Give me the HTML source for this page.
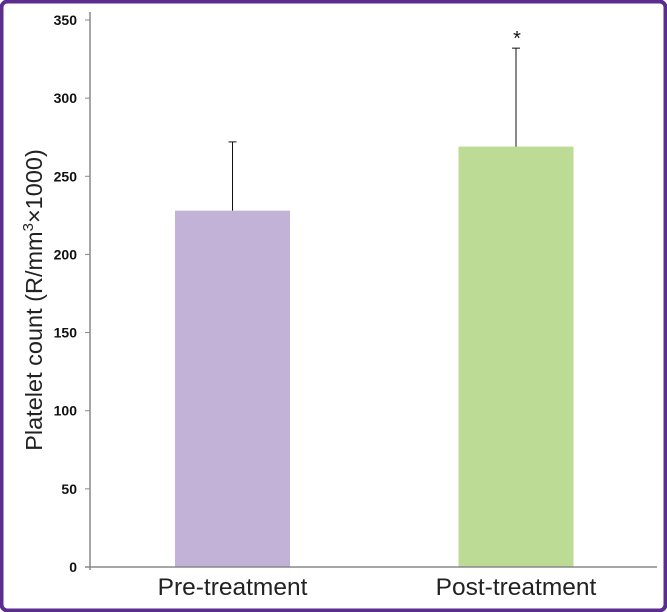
<!DOCTYPE html>
<html><head><meta charset="utf-8"><style>
body{margin:0;background:#fff}
svg{display:block;font-family:"Liberation Sans",Arial,sans-serif}
</style></head><body>
<svg width="667" height="612">
<rect x="1.5" y="1.5" width="664" height="609" rx="6" fill="#fff" stroke="#5b2d8e" stroke-width="4"/>
<g id="plot"></g>
<text transform="translate(42,300) rotate(-90)" text-anchor="middle" font-size="23.5" fill="#222">Platelet count (R/mm<tspan font-size="15" dy="-9">3</tspan><tspan dy="9">×1000)</tspan></text>
</svg>
<script>
const categories=["Pre-treatment","Post-treatment"];
const values=[228,269];
const errors=[44,63];
const sigMarks=["","*"];
const yTicks=[0,50,100,150,200,250,300,350];
const colors=["#c3b2d8","#bcdc96"];
const NS="http://www.w3.org/2000/svg";
const g=document.getElementById('plot');
const y0=567,y1=20,ymax=350,xl=90,xr=657;
const y=v=>y0-(v/ymax)*(y0-y1);
const centers=[232.5,516];const bw=115;
function mk(t,a){const e=document.createElementNS(NS,t);for(const k in a)e.setAttribute(k,a[k]);g.appendChild(e);return e;}
yTicks.forEach(t=>{
  const l=mk('line',{x1:xl-5,x2:xl,y1:y(t),y2:y(t),stroke:'#888'});
  
  
  const tx=mk('text',{x:xl-13,y:y(t)+5,'text-anchor':'end','font-size':14,'font-weight':'bold',fill:'#111'});
  tx.textContent=t;
  
  
});
categories.forEach((c,i)=>{
  const cx=centers[i];
  const r=mk('rect',{x:cx-bw/2,y:y(values[i]),width:bw,height:y0-y(values[i]),fill:colors[i]});
  
  
  const top=y(values[i]+errors[i]);
  const e=mk('line',{x1:cx,x2:cx,y1:y(values[i]),y2:top,stroke:'#111'});
  
  
  const cap=mk('line',{x1:cx-4,x2:cx+4,y1:top,y2:top,stroke:'#111'});
  
  
  if(sigMarks[i]){const s=mk('text',{x:cx+1,y:top-3,'text-anchor':'middle','font-size':20,fill:'#111'});s.textContent=sigMarks[i];
  
  }
  const lb=mk('text',{x:cx,y:595,'text-anchor':'middle','font-size':24.5,fill:'#222'});
  lb.textContent=c;
  
  
});
const ya=mk('line',{x1:xl,x2:xl,y1:y1-8,y2:y0+3,stroke:'#888','stroke-width':1.5});


const xa=mk('line',{x1:xl-5,x2:xr,y1:y0,y2:y0,stroke:'#888','stroke-width':1.5});


</script>
</body></html>
